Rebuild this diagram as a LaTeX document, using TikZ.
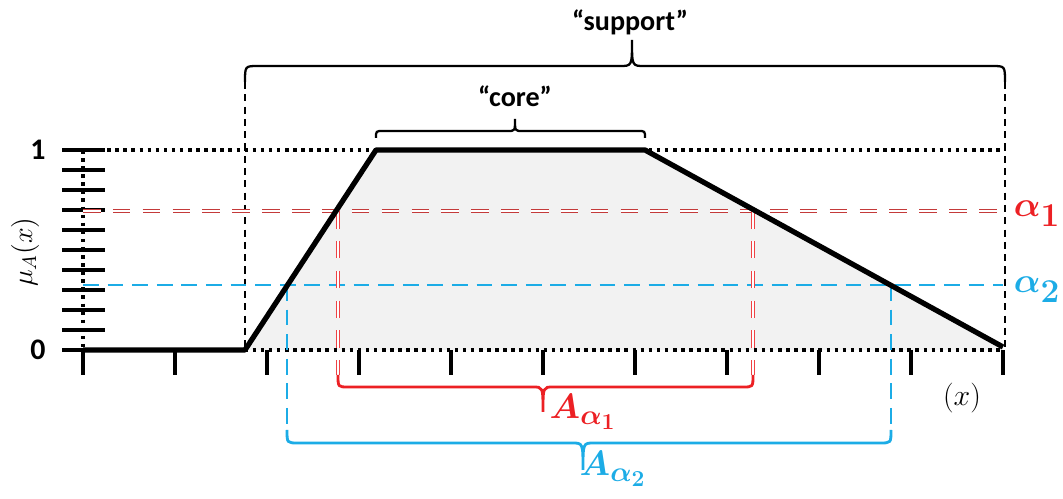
\RequirePackage{fix-cm}
\documentclass[tikz,border=0pt]{standalone}
\usepackage{fontspec}
\setmainfont{Carlito}
\newfontfamily\digitfont{Latin Modern Roman}
\usepackage{bm}

\definecolor{alphared}{RGB}{236,32,36}
\definecolor{linered}{RGB}{196,58,58}
\definecolor{alphablue}{RGB}{28,172,230}
\definecolor{fillgrey}{RGB}{242,242,242}

\newcommand{\bigsub}[1]{\mbox{\digitfont\bfseries\fontsize{19}{20}\selectfont #1}}
\newcommand{\cutsub}[1]{\mbox{\fontsize{16}{18}\selectfont$\bm{\alpha}_{\mbox{\digitfont\bfseries\fontsize{13}{14}\selectfont #1}}$}}

\tikzset{
  grid dots/.style={line width=2pt, dash pattern=on 2pt off 2.6pt},
  cut one/.style={linered, line width=0.9pt, double=white, double distance=0.8pt, dash pattern=on 10pt off 7pt},
  cut one down/.style={cut one, alphared!85!white},
  cut two/.style={alphablue, line width=1.7pt, dash pattern=on 9pt off 5pt},
  support leg/.style={line width=1.2pt, dash pattern=on 4pt off 3pt},
  membership/.style={line width=3pt, line join=round},
  tickmark/.style={line width=2.2pt},
  bracepath/.style={line width=1.3pt},
  bigmath/.style={font=\fontsize{20}{24}\selectfont},
  wordlabel/.style={font=\bfseries\fontsize{16}{19}\selectfont}
}

\begin{document}
\begin{tikzpicture}[x=0.02cm,y=-0.02cm]
  \useasboundingbox (0,0) rectangle (1063,499);
  % corners of the membership function
  \coordinate (left0) at (83,350);
  \coordinate (supp0) at (245,350);
  \coordinate (core0) at (376,150);
  \coordinate (core1) at (645,150);
  \coordinate (supp1) at (1003,347);
  \fill[fillgrey] (supp0) -- (core0) -- (core1) -- (supp1) -- (1003,350) -- cycle;

  % axes
  \foreach \k in {0,...,10} {
    \draw[tickmark] (62,150+20*\k) -- (105,150+20*\k);
    \draw[tickmark] (83+92*\k,350) -- (83+92*\k,375);
  }
  \draw[grid dots] (83,150) -- (1003,150);
  \draw[grid dots] (83,350) -- (1003,350);
  \draw[grid dots] (83,150) -- (83,350);

  % support legs
  \draw[support leg] (245,82) -- (245,350);
  \draw[support leg] (1005,82) -- (1005,350);

  % alpha cuts
  \draw[cut one] (83,211) -- (1003,211);
  \draw[cut two] (83,285) -- (1003,285);
  \draw[cut one down] (338,211) -- (338,375);
  \draw[cut one down] (753,211) -- (753,375);
  \draw[cut two] (287,285) -- (287,430);
  \draw[cut two] (891,285) -- (891,430);

  \draw[membership] (left0) -- (supp0) -- (core0) -- (core1) -- (supp1);

  % braces
  \draw[bracepath] (245,82) .. controls (245,66) .. (258,66) -- (620,66)
    .. controls (632,66) .. (632,40) .. controls (632,66) .. (644,66)
    -- (992,66) .. controls (1005,66) .. (1005,82);
  \draw[bracepath] (376,138) .. controls (376,131) .. (383,131) -- (508,131)
    .. controls (515,131) .. (515,119) .. controls (515,131) .. (522,131)
    -- (638,131) .. controls (645,131) .. (645,138);
  \draw[bracepath, alphared, line width=1.6pt] (338,375) .. controls (338,387) .. (348,387) -- (533,387)
    .. controls (543,387) .. (543,412) .. controls (543,387) .. (553,387)
    -- (743,387) .. controls (753,387) .. (753,375);
  \draw[bracepath, alphablue, line width=1.6pt] (287,430) .. controls (287,443) .. (298,443) -- (572,443)
    .. controls (583,443) .. (583,470) .. controls (583,443) .. (594,443)
    -- (880,443) .. controls (891,443) .. (891,430);

  % labels
  \node[font=\bfseries\fontsize{17}{20}\selectfont] (one) at (38,150) {1};
  \node[font=\bfseries\fontsize{17}{20}\selectfont] (zero) at (38,350) {0};
  \node[rotate=90, font=\fontsize{16}{18}\selectfont] (mu) at (25,252) {$\mu_A(x)$};
  \node[wordlabel] (support) at (630,22) {“support”};
  \node[wordlabel] (core) at (515,96) {“core”};
  \node[bigmath, alphared] (alpha1) at (1037,214) {$\bm{\alpha}_{\bigsub{1}}$};
  \node[bigmath, alphablue] (alpha2) at (1037,290) {$\bm{\alpha}_{\bigsub{2}}$};
  \node[bigmath, alphared] (cut1) at (583,412) {$\bm{A}_{\cutsub{1}}$};
  \node[bigmath, alphablue] (cut2) at (613,469) {$\bm{A}_{\cutsub{2}}$};
  \node[font=\fontsize{17}{20}\selectfont] (xlabel) at (962,398) {$(x)$};
\end{tikzpicture}
\end{document}
